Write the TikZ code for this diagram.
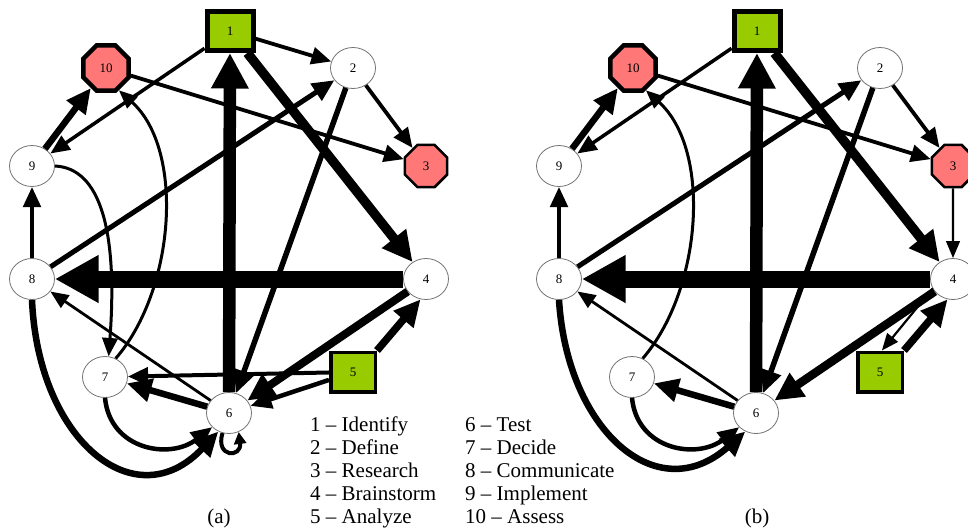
\documentclass[tikz,border=0pt]{standalone}
\usepackage{fontspec}
\setmainfont{Liberation Serif}
\usetikzlibrary{arrows.meta,shapes.geometric}
\definecolor{grn}{HTML}{99CC00}
\definecolor{rd}{HTML}{FF7777}
\begin{document}
\begin{tikzpicture}[x=1pt,y=-1pt,
  lab/.style={font=\fontsize{13}{15}\selectfont},
  ell/.style={lab,ellipse,draw=black!55,line width=0.8pt,fill=white,minimum width=45pt,minimum height=41pt,inner sep=0pt},
  sqA/.style={lab,rectangle,draw=black,fill=grn,line width=5pt,minimum width=46pt,minimum height=39pt,inner sep=0pt},
  sqB/.style={lab,rectangle,draw=black,fill=grn,line width=3.5pt,minimum width=44.5pt,minimum height=39.5pt,inner sep=0pt},
  octA/.style={lab,regular polygon,regular polygon sides=8,draw=black,fill=rd,line width=4.5pt,minimum size=49pt,inner sep=0pt},
  octB/.style={lab,regular polygon,regular polygon sides=8,draw=black,fill=rd,line width=2.5pt,minimum size=45.5pt,inner sep=0pt},
  ar/.style={line width=#1pt,-{Triangle[length=13pt 1.8,width=9pt 2.1]}},
  loopar/.style={line width=#1pt,-{Triangle[length=12pt,width=12pt]}},
  leg/.style={anchor=base west,inner sep=0pt,font=\fontsize{21}{23}\selectfont},
  captxt/.style={anchor=base,inner sep=0pt,font=\fontsize{21}{23}\selectfont}
]
\path[use as bounding box] (0,0) rectangle (968,531);

% ---------------- panel (a) ----------------
\node[sqA] (a1) at (230,31) {1};
\node[ell] (a2) at (353,68) {2};
\node[octB] (a3) at (426,166) {3};
\node[ell] (a4) at (426,279) {4};
\node[sqB] (a5) at (353,372) {5};
\node[ell] (a6) at (229,413) {6};
\node[ell] (a7) at (105,377) {7};
\node[ell] (a8) at (32,279) {8};
\node[ell] (a9) at (32,166) {9};
\node[octA] (a10) at (106,68) {10};

\draw[ar=12.5] (a6) -- (a1);
\draw[ar=17] (a4) -- (a8);
\draw[ar=9.5] (a1) -- (a4);
\draw[ar=8] (a4) -- (a6);
\draw[ar=7.5] (a5.north east) -- (a4.255);
\draw[ar=5.5] (a2) -- (a6);
\draw[ar=5] (a8) -- (a2);
\draw[ar=6.5] (a9) -- (a10);
\draw[ar=6.5] (a6) -- (a7);
\draw[ar=4.5] (a5) -- (a6);
\draw[ar=4] (a5) -- (a7);
\draw[ar=4] (a8) -- (a9);
\draw[ar=3.8] (a1) -- (a2);
\draw[ar=3.5] (a1) -- (a9);
\draw[ar=3.8] (a2) -- (a3);
\draw[ar=3.8] (a10) -- (a3);
\draw[ar=2.8] (a6) -- (a8);
\draw[ar=3] (a9.east) .. controls (100,168) and (118,230) .. (a7.80);
\draw[ar=3] (a7.60) .. controls (175,290) and (185,150) .. (a10.-60);
\draw[ar=4.5] (a7.south) .. controls (110,450) and (170,460) .. (a6.220);
\draw[ar=6.5] (a8.south) .. controls (38,440) and (135,520) .. (a6.240);
\draw[loopar=4] (a6.252) .. controls (215,458) and (242,458) .. (a6.297);

% ---------------- panel (b) ----------------
\begin{scope}[xshift=527pt]
\node[sqA] (b1) at (230,31) {1};
\node[ell] (b2) at (353,68) {2};
\node[octB] (b3) at (426,166) {3};
\node[ell] (b4) at (426,279) {4};
\node[sqB] (b5) at (353,372) {5};
\node[ell] (b6) at (229,413) {6};
\node[ell] (b7) at (105,377) {7};
\node[ell] (b8) at (32,279) {8};
\node[ell] (b9) at (32,166) {9};
\node[octA] (b10) at (106,68) {10};

\draw[ar=12.5] (b6) -- (b1);
\draw[ar=17] (b4) -- (b8);
\draw[ar=9.5] (b1) -- (b4);
\draw[ar=8.5] (b4) -- (b6);
\draw[ar=7.5] (b5.north east) -- (b4.255);
\draw[ar=2.2] (b4.205) -- (b5.85);
\draw[ar=2.2] (b3) -- (b4);
\draw[ar=5.5] (b2) -- (b6);
\draw[ar=5] (b8) -- (b2);
\draw[ar=6.5] (b9) -- (b10);
\draw[ar=6.5] (b6) -- (b7);
\draw[ar=4] (b8) -- (b9);
\draw[ar=3.5] (b1) -- (b9);
\draw[ar=3.8] (b2) -- (b3);
\draw[ar=3.8] (b10) -- (b3);
\draw[ar=2.8] (b6) -- (b8);
\draw[ar=3] (b7.60) .. controls (175,290) and (185,150) .. (b10.-60);
\draw[ar=4.5] (b7.south) .. controls (110,450) and (170,460) .. (b6.220);
\draw[ar=6.5] (b8.south) .. controls (40,430) and (130,510) .. (b6.240);
\end{scope}

% ---------------- legend ----------------
\node[leg] (l1) at (310,431) {1 – Identify};
\node[leg] (l2) at (310,454) {2 – Define};
\node[leg] (l3) at (310,477) {3 – Research};
\node[leg] (l4) at (310,500.5) {4 – Brainstorm};
\node[leg] (l5) at (310,523.5) {5 – Analyze};
\node[leg] (l6) at (465,431) {6 – Test};
\node[leg] (l7) at (465,454) {7 – Decide};
\node[leg] (l8) at (465,477) {8 – Communicate};
\node[leg] (l9) at (465,500.5) {9 – Implement};
\node[leg] (l10) at (465,523.5) {10 – Assess};
\node[captxt] (capa) at (219,523.5) {(a)};
\node[captxt] (capb) at (757,523.5) {(b)};
\end{tikzpicture}
\end{document}
